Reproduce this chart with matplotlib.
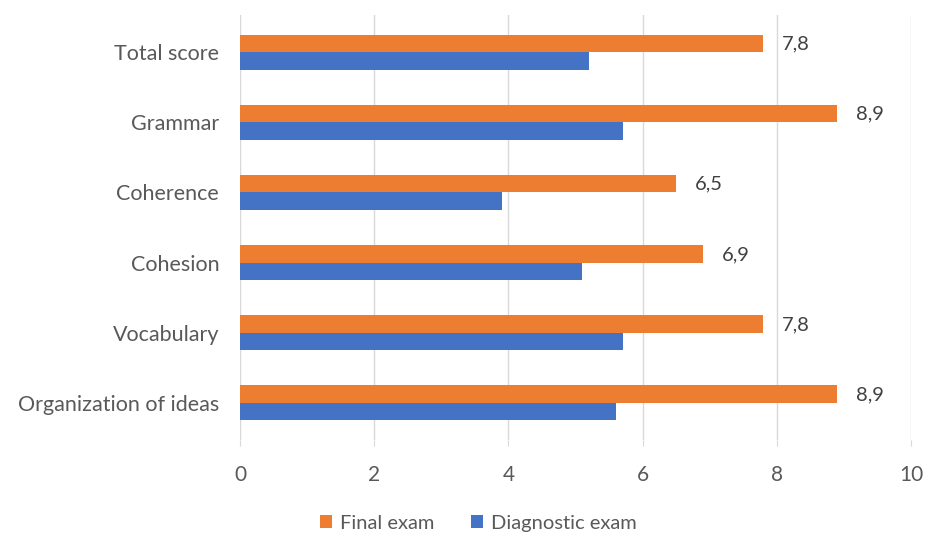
import matplotlib
matplotlib.use("Agg")
import matplotlib.pyplot as plt
import numpy as np

categories = ["Organization of ideas", "Vocabulary", "Cohesion", "Coherence", "Grammar", "Total score"]
final_exam = [8.9, 7.8, 6.9, 6.5, 8.9, 7.8]
diagnostic_exam = [5.6, 5.7, 5.1, 3.9, 5.7, 5.2]
final_labels = ["8,9", "7,8", "6,9", "6,5", "8,9", "7,8"]
x_ticks = [0, 2, 4, 6, 8, 10]

plt.rcParams['font.family'] = ['Lato', 'DejaVu Sans']

fig = plt.figure(figsize=(9.25, 5.34), dpi=100)
ax = fig.add_axes([0.2595, 0.176, 0.7255, 0.796])

y = np.arange(len(categories))
h = 0.25
orange = "#ED7D31"
blue = "#4472C4"
ax.barh(y + h / 2, final_exam, height=h, color=orange, label="Final exam", zorder=3)
ax.barh(y - h / 2, diagnostic_exam, height=h, color=blue, label="Diagnostic exam", zorder=3)

for yi, v, lab in zip(y, final_exam, final_labels):
    ax.text(v + 0.28, yi + h / 2 - 0.01, lab, va="center", ha="left", fontsize=14.5, color="#404040")

ax.set_xlim(0, 10)
ax.set_ylim(-0.53, 5.53)
ax.set_xticks(x_ticks)
ax.set_xticklabels([str(t) for t in x_ticks])
ax.set_yticks(y)
ax.set_yticklabels(categories)
ax.grid(axis="x", color="#D9D9D9", linewidth=1, zorder=0)
for s in ax.spines.values():
    s.set_visible(False)
ax.tick_params(axis="y", length=0, pad=15, labelsize=15.5, labelcolor="#595959")
ax.tick_params(axis="x", length=4, color="#D9D9D9", pad=14, labelsize=15, labelcolor="#595959")

leg = fig.legend(loc="lower center", bbox_to_anchor=(0.517, -0.03), ncol=2, frameon=False,
                 fontsize=14.5, handlelength=0.6, handleheight=0.6, columnspacing=1.8, handletextpad=0.4)
for t in leg.get_texts():
    t.set_color("#595959")

fig.savefig("out.png", dpi=100)
